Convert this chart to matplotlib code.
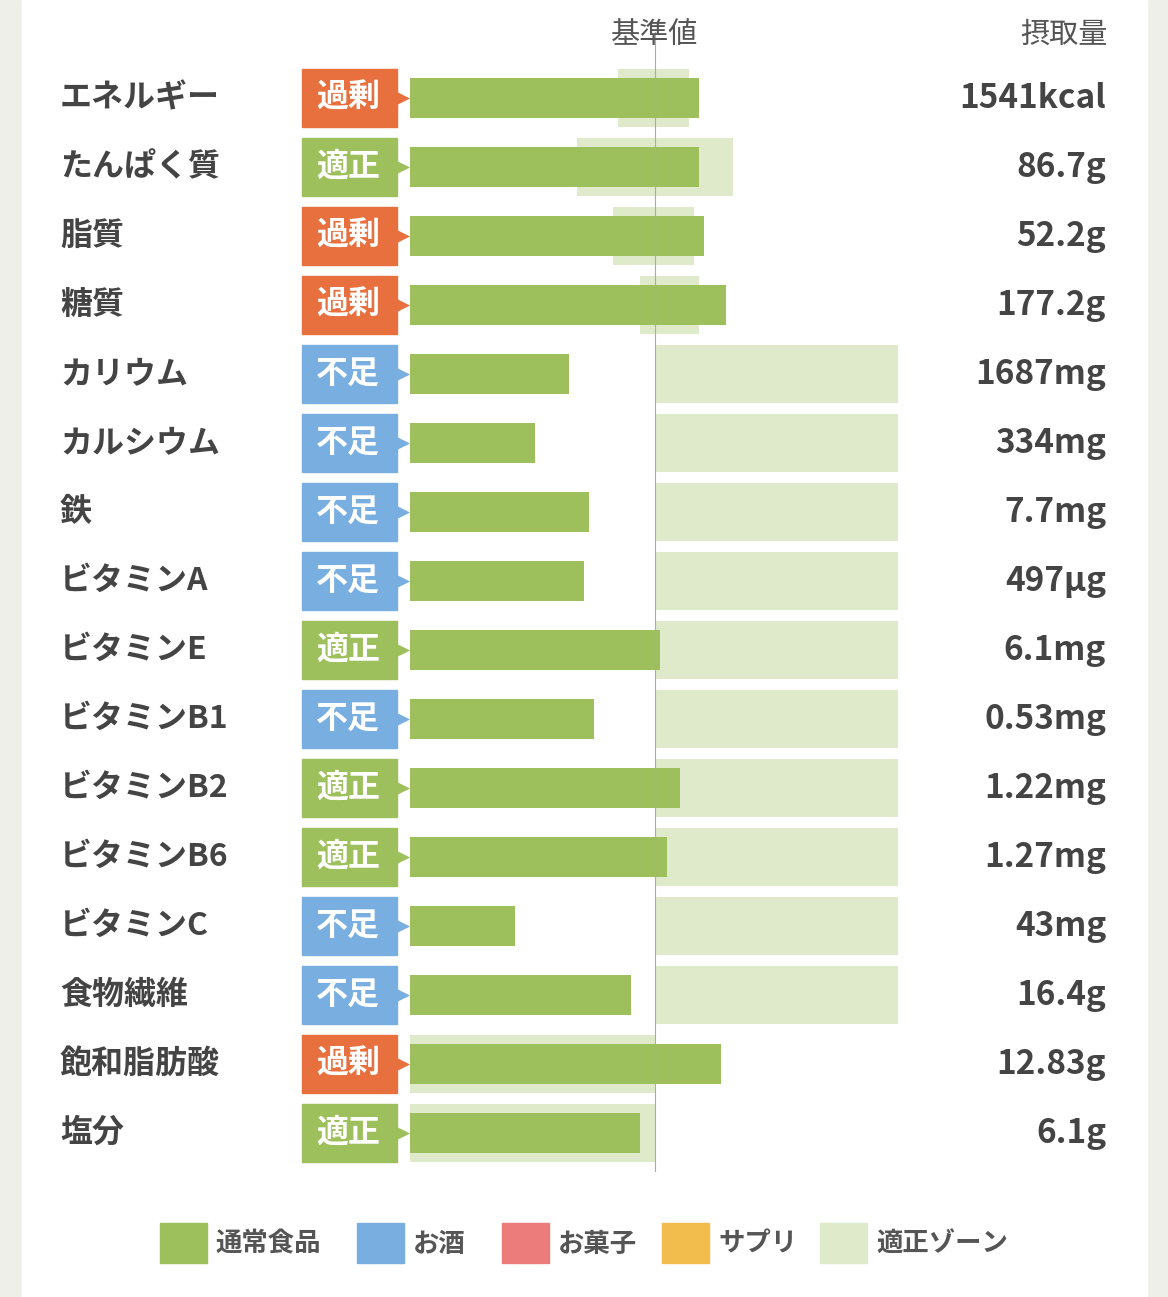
import matplotlib
matplotlib.use("Agg")
import matplotlib.pyplot as plt
from matplotlib.patches import Rectangle
from matplotlib.transforms import blended_transform_factory

plt.rcParams['font.family'] = ['Noto Sans CJK JP', 'DejaVu Sans']

# Data: intake as % of the standard value
nutrients = ["エネルギー", "たんぱく質", "脂質", "糖質", "カリウム", "カルシウム", "鉄",
             "ビタミンA", "ビタミンE", "ビタミンB1", "ビタミンB2", "ビタミンB6",
             "ビタミンC", "食物繊維", "飽和脂肪酸", "塩分"]
status = ["過剰", "適正", "過剰", "過剰", "不足", "不足", "不足", "不足", "適正",
          "不足", "適正", "適正", "不足", "不足", "過剰", "適正"]
pct = [118, 118, 120, 129, 65, 51, 73, 71, 102, 75, 110, 105, 43, 90, 127, 94]
zone_lo = [85, 68, 83, 94, 100, 100, 100, 100, 100, 100, 100, 100, 100, 100, 0, 0]
zone_hi = [114, 132, 116, 118, 199, 199, 199, 199, 199, 199, 199, 199, 199, 199, 100, 100]
amounts = ["1541kcal", "86.7g", "52.2g", "177.2g", "1687mg", "334mg", "7.7mg", "497µg",
           "6.1mg", "0.53mg", "1.22mg", "1.27mg", "43mg", "16.4g", "12.83g", "6.1g"]
legend_labels = ["通常食品", "お酒", "お菓子", "サプリ", "適正ゾーン"]

GREEN = "#9dbf5c"
ZONE = "#dfeacb"
badge_colors = {"過剰": "#e8703f", "適正": "#9dbf5c", "不足": "#78aee0"}
legend_colors = [GREEN, "#78aee0", "#ec7b7b", "#f2bd4c", ZONE]
TXT = "#444444"

W, H = 1168, 1297
fig = plt.figure(figsize=(W / 100, H / 100), dpi=100)
fig.patch.set_facecolor("#efefea")
fig.add_artist(Rectangle((22 / W, 0), (1147 - 22) / W, 1, color="white", zorder=0))

px_per_pct = 2.45
x0 = 410
ax = fig.add_axes([x0 / W, 0, (W - x0) / W, 1])
ax.set_xlim(0, (W - x0) / px_per_pct)
ax.set_ylim((H - 98) / 69, -98 / 69)
ax.axis("off")
ax.patch.set_alpha(0)

rows = range(len(nutrients))
ax.barh(rows, [h - l for l, h in zip(zone_lo, zone_hi)], left=zone_lo, height=0.84,
        color=ZONE, zorder=1)
ax.barh(rows, pct, height=0.58, color=GREEN, zorder=2)
ax.plot([100, 100], [-0.95, 15.55], color="#aaaaaa", lw=0.8, zorder=3)

tr = blended_transform_factory(fig.transFigure, ax.transData)
for i in rows:
    ax.text(60 / W, i, nutrients[i], transform=tr, ha="left", va="center",
            fontsize=23, fontweight="bold", color=TXT)
    c = badge_colors[status[i]]
    # badge body
    ax.add_patch(Rectangle((302 / W, i - 0.42), 95 / W, 0.84, transform=tr,
                           color=c, zorder=3, clip_on=False))
    ax.scatter([399 / W], [i], transform=tr, marker=">", s=230, color=c,
               clip_on=False, zorder=4, linewidths=0)
    ax.text(348 / W, i, status[i], transform=tr, ha="center", va="center",
            fontsize=23, fontweight="bold", color="white", zorder=5)
    ax.text(1106 / W, i, amounts[i], transform=tr, ha="right", va="center",
            fontsize=24, fontweight="bold", color=TXT)

ax.text(100, -0.92, "基準値", ha="center", va="center", fontsize=21, color="#555555")
ax.text(1108 / W, -0.92, "摂取量", transform=tr, ha="right", va="center",
        fontsize=21, color="#555555")

# Legend
lx = [160, 357, 502, 662, 820]
for x, lab, col in zip(lx, legend_labels, legend_colors):
    fig.add_artist(Rectangle((x / W, 1 - 1263 / H), 47 / W, 40 / H, color=col))
    fig.text((x + 56) / W, 1 - 1244 / H, lab, ha="left", va="center",
             fontsize=19, fontweight="bold", color="#555555")

fig.savefig("out.png", dpi=100, facecolor=fig.get_facecolor())
